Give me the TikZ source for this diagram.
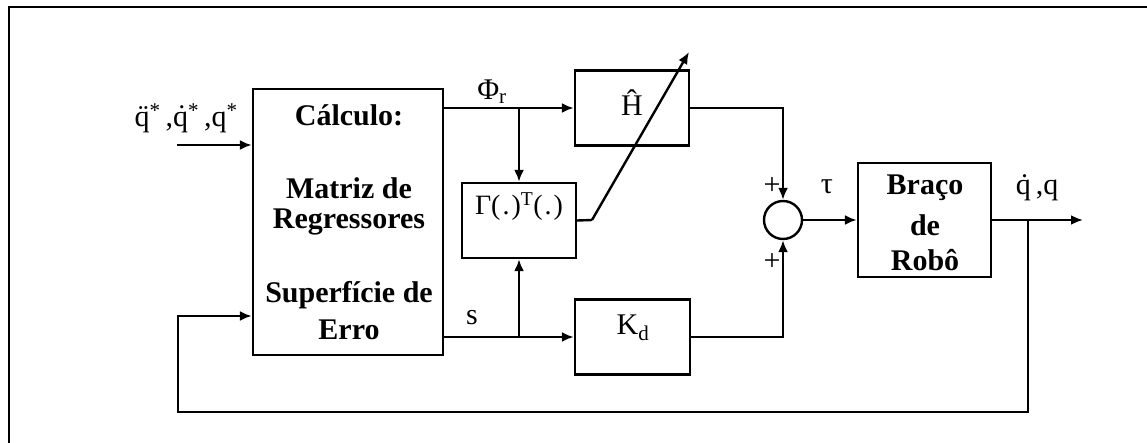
\documentclass[tikz,border=0pt]{standalone}
\usepackage{fontspec}
\setmainfont{Liberation Serif}
\usetikzlibrary{arrows.meta}
\begin{document}
\begin{tikzpicture}[x=1pt,y=-1pt,
  line width=2.4pt,
  arr/.style={-{Latex[length=12pt,width=10pt]}},
  blk/.style={draw, rectangle, inner sep=0pt},
  big/.style={font=\fontsize{30}{34}\selectfont\bfseries, inner sep=0pt},
  lab/.style={font=\fontsize{30}{34}\selectfont, inner sep=0pt}]
\useasboundingbox (0,0) rectangle (1147,443);
% frame
\draw (9,443) -- (9,7) -- (1147,7);
% blocks
\node[blk, minimum width=190pt, minimum height=266pt] (calc) at (348,222) {};
\node[blk, minimum width=114pt, minimum height=75pt] (hh) at (632,108) {};
\node[blk, minimum width=114pt, minimum height=75pt] (gam) at (519,220.5) {};
\node[blk, minimum width=115pt, minimum height=75pt] (kd) at (632.5,337) {};
\node[blk, minimum width=133pt, minimum height=114pt] (arm) at (924.5,220) {};
\node[draw, circle, minimum size=38pt, inner sep=0pt] (sum) at (783,220) {};
% texts in blocks
\node[big] (t1) at (349,115) {Cálculo:};
\node[big] (t2) at (349,188) {Matriz de};
\node[big] (t3) at (349,222) {Regressores};
\node[big] (t4) at (349,295) {Superfície de};
\node[big] (t5) at (349,330) {Erro};
\node[lab] (hht) at (632,103) {Ĥ};
\node[lab, font=\fontsize{28}{32}\selectfont] (gt) at (519,207) {Γ(\hspace{2pt}.\hspace{2pt})\textsuperscript{T}(\hspace{2pt}.\hspace{2pt})};
\node[lab] (kt) at (633,328) {K\textsubscript{d}};
\node[big] (a1) at (925,188) {Braço};
\node[big] (a2) at (925,225) {de};
\node[big] (a3) at (925,260) {Robô};
% labels
\node[lab] (lin) at (186,118) {q̈\textsuperscript{*}\,,q̇\textsuperscript{*}\,,q\textsuperscript{*}};
\node[lab] (lphi) at (492,92) {Φ\textsubscript{r}};
\node[lab] (ls) at (472,318) {s};
\node[lab] (lp1) at (772,186) {+};
\node[lab] (lp2) at (772,262) {+};
\node[lab] (ltau) at (827,187) {τ};
\node[lab] (lout) at (1037,188) {q̇\,,q};
% coordinates
\coordinate (in) at (177,145);
\coordinate (b1) at (519,108);
\coordinate (b2) at (519,337);
\coordinate (dg) at (592,220);
\coordinate (dt) at (689,52);
\coordinate (out) at (1083,220);
\coordinate (b3) at (1028,220);
\coordinate (fb1) at (1028,412);
\coordinate (fb2) at (178,412);
\coordinate (fb3) at (178,316);
% connectors
\draw[arr] (in) -- (calc.west |- in);
\draw (calc.east |- b1) -- (b1);
\draw[arr] (b1) -- (hh.west);
\draw[arr] (b1) -- (gam.north);
\draw (calc.east |- b2) -- (b2);
\draw[arr] (b2) -- (kd.west);
\draw[arr] (b2) -- (gam.south);
\draw (gam.east) -- (dg);
\draw[arr] (dg) -- (dt);
\draw[arr] (hh.east) -| (sum.north);
\draw[arr] (kd.east) -| (sum.south);
\draw[arr] (sum.east) -- (arm.west);
\draw[arr] (arm.east) -- (out);
\draw[arr] (b3) -- (fb1) -- (fb2) -- (fb3) -- (calc.west |- fb3);
\end{tikzpicture}
\end{document}
